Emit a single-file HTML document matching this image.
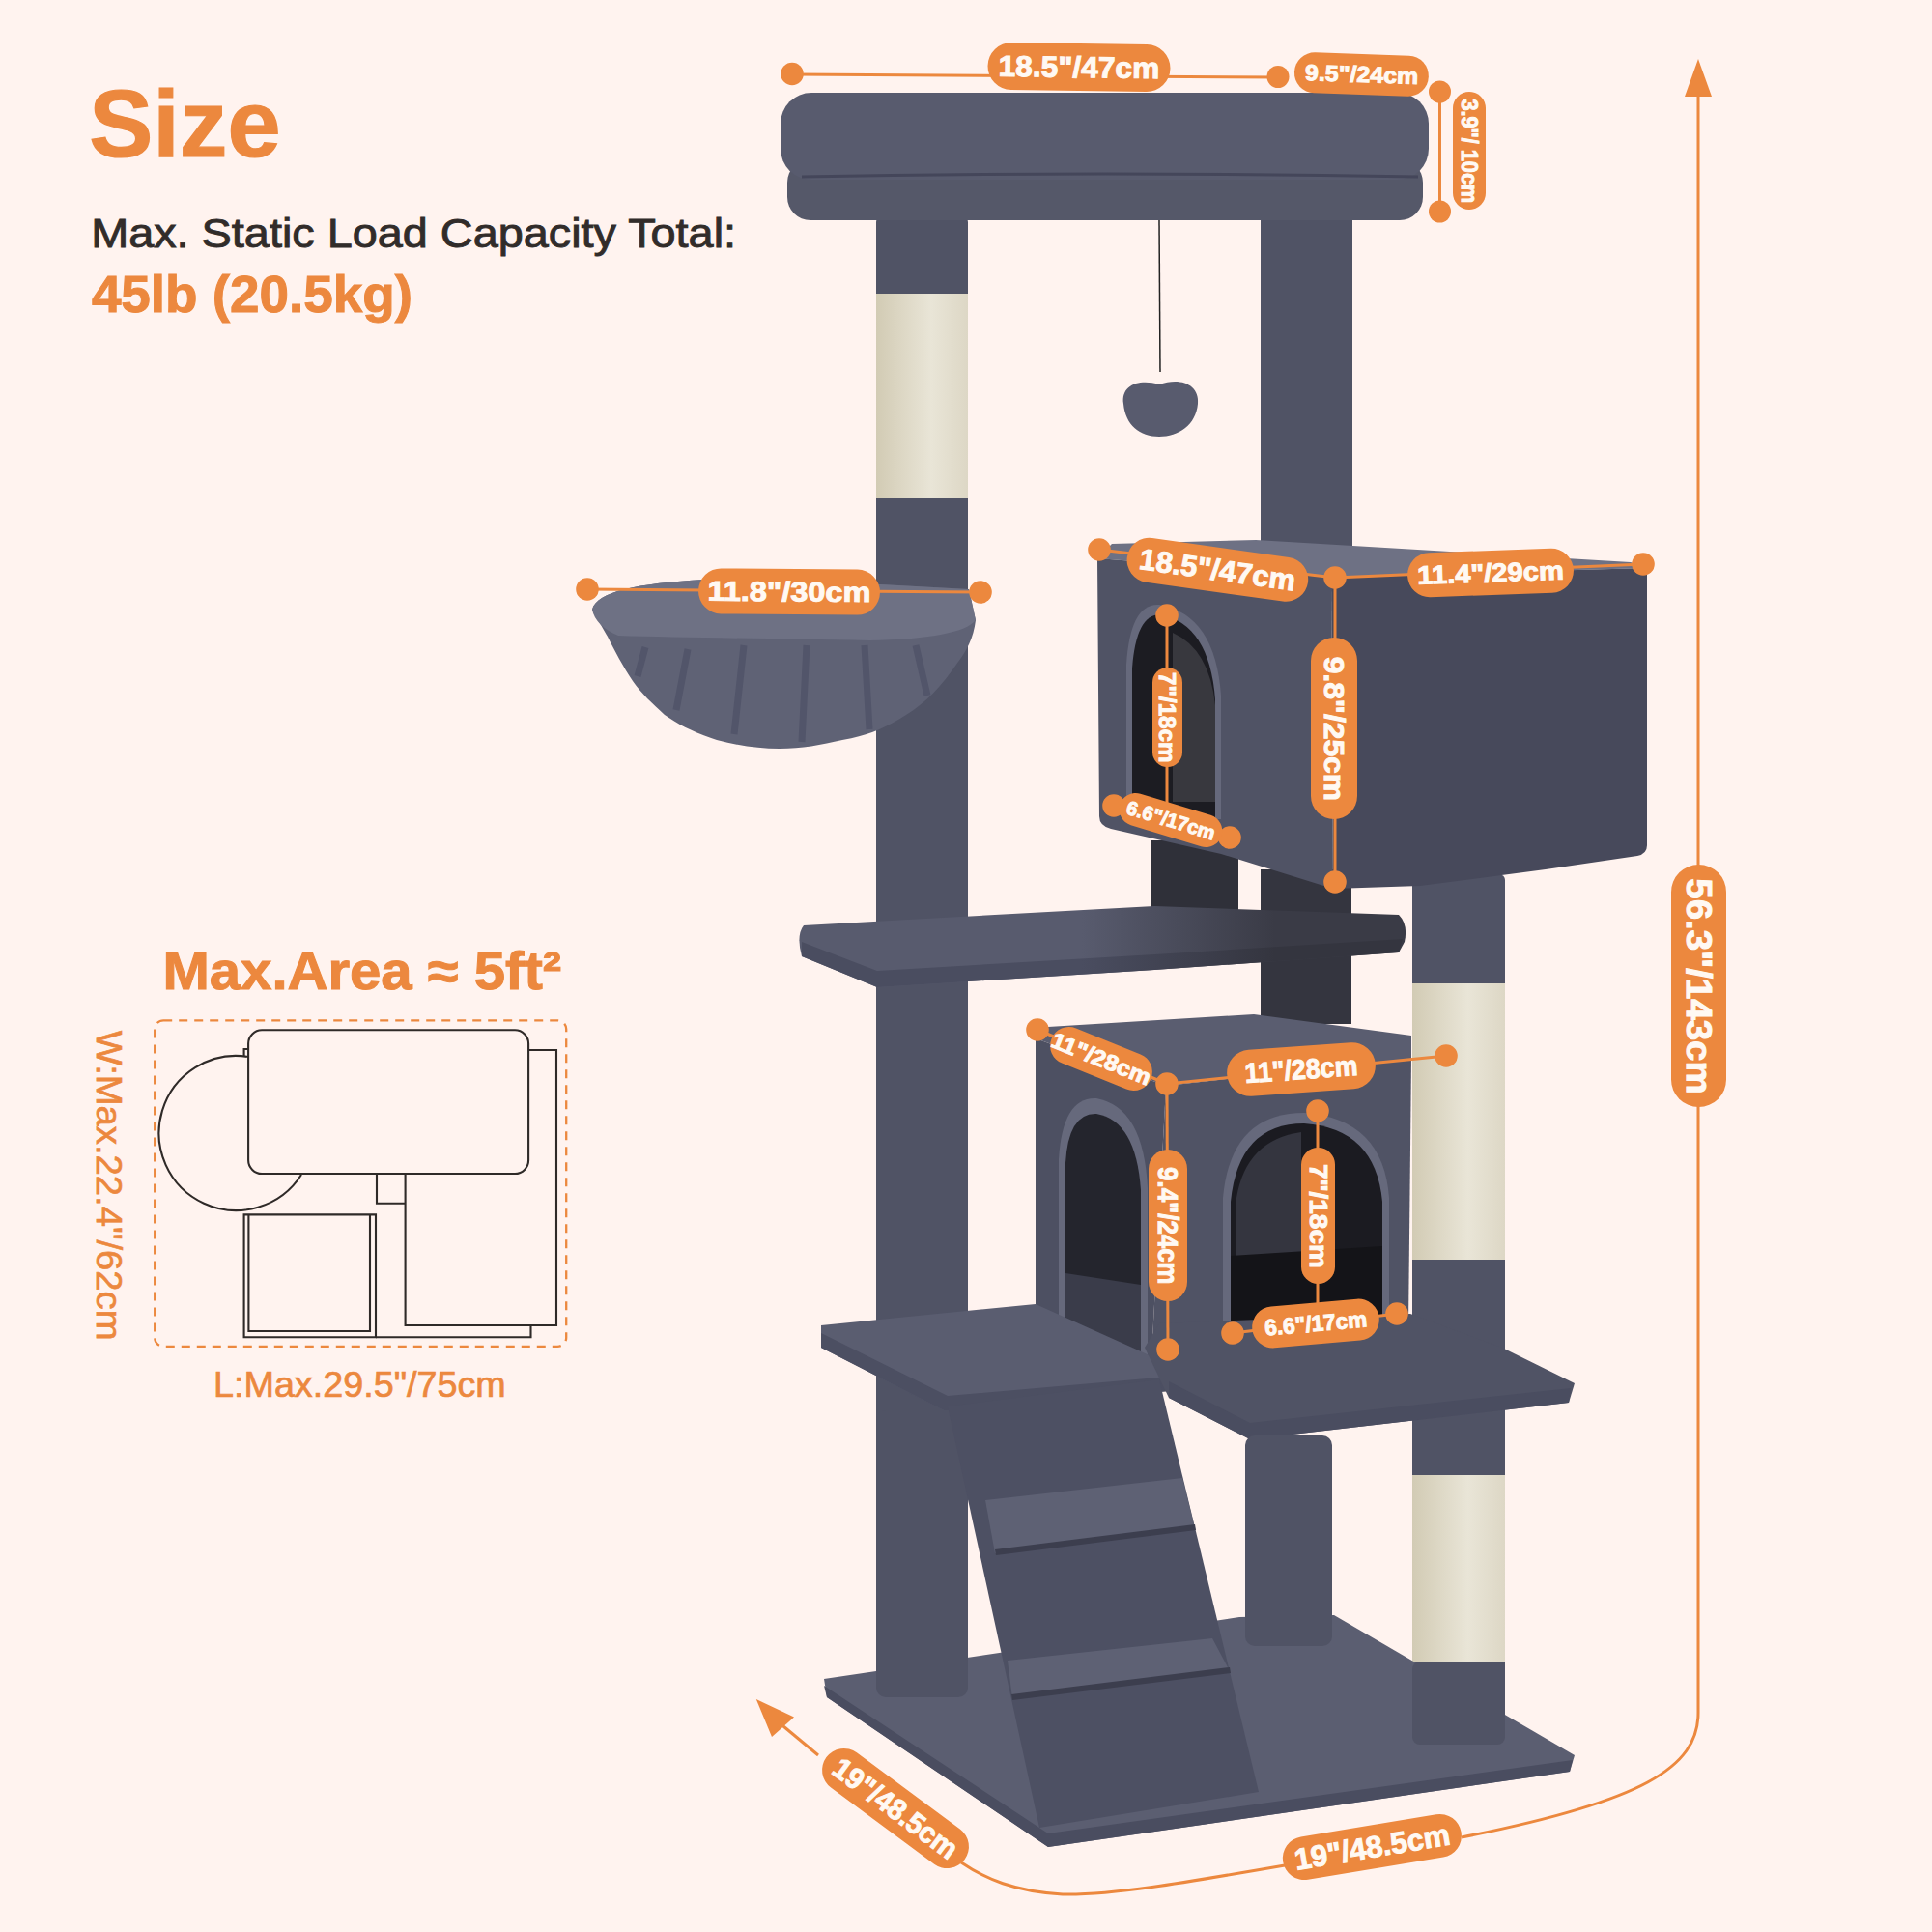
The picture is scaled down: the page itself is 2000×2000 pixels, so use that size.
<!DOCTYPE html>
<html><head><meta charset="utf-8">
<style>
html,body{margin:0;padding:0;background:#FFF3EF;}
body{width:2000px;height:2000px;overflow:hidden;position:relative;font-family:"Liberation Sans",sans-serif;}
svg{position:absolute;left:0;top:0;}
.t{font-family:"Liberation Sans",sans-serif;font-weight:bold;}
.r{font-family:"Liberation Sans",sans-serif;font-weight:normal;}
</style></head>
<body>
<svg width="2000" height="2000" viewBox="0 0 2000 2000">
<rect width="2000" height="2000" fill="#FFF3EF"/>
<defs>
  <linearGradient id="sis" x1="0" y1="0" x2="1" y2="0">
    <stop offset="0" stop-color="#D2CBB4"/><stop offset="0.6" stop-color="#E9E5D7"/><stop offset="1" stop-color="#DDD7C5"/>
  </linearGradient>
  <linearGradient id="mp" gradientUnits="userSpaceOnUse" x1="1120" y1="0" x2="1320" y2="0">
    <stop offset="0" stop-color="#585B6E"/><stop offset="1" stop-color="#3A3B46"/>
  </linearGradient>
  <linearGradient id="mpf" gradientUnits="userSpaceOnUse" x1="1120" y1="0" x2="1320" y2="0">
    <stop offset="0" stop-color="#4A4D60"/><stop offset="1" stop-color="#34353F"/>
  </linearGradient>
</defs>
<g id="tree">
  <!-- upper right post (behind condo) -->
  <rect x="1305" y="222" width="95" height="345" fill="#505365"/>
  <!-- left long post -->
  <rect x="907" y="222" width="95" height="1535" rx="8" fill="#505365"/>
  <rect x="907" y="304" width="95" height="212" fill="url(#sis)"/>
  <!-- top platform -->
  <rect x="815" y="165" width="658" height="63" rx="24" fill="#555869"/>
  <rect x="808" y="96" width="671" height="90" rx="32" fill="#585B6E"/>
  <path d="M830,183 Q1140,177 1468,183" fill="none" stroke="#44465A" stroke-width="3"/>
  <!-- ball -->
  <line x1="1200" y1="228" x2="1201" y2="385" stroke="#222" stroke-width="1.5"/>
  <path d="M1163,418 C1160,398 1180,392 1200,398 C1222,390 1242,398 1240,418 C1238,440 1220,452 1200,452 C1180,452 1165,440 1163,418 Z" fill="#585B6E"/>
  <!-- hammock -->
  <path d="M613,631 C618,612 660,604 729,600 L912,605 L1003,610 L1010,642 C1008,660 1000,675 992,685 C975,710 958,728 938,740 C915,755 895,762 872,766 C850,771 830,775 807,775 C785,775 765,772 742,766 C718,758 702,750 688,740 C675,728 664,718 655,705 C645,690 636,673 629,659 C625,652 618,640 613,631 Z" fill="#5F6275"/>
  <path d="M613,631 C618,612 660,604 729,600 L912,605 L1003,610 L1010,642 C1000,655 960,662 900,663 C800,661 700,660 640,658 C625,652 615,642 613,631 Z" fill="#6E7184"/>
  <path d="M660,700 L668,670 M700,735 L712,672 M760,760 L770,668 M830,768 L835,668 M900,755 L895,668 M960,720 L948,668" stroke="#52556A" stroke-width="7" fill="none"/>
  <!-- posts under upper condo -->
  <rect x="1191" y="870" width="91" height="95" fill="#2F3039"/>
  <rect x="1305" y="900" width="94" height="160" fill="#34353F"/>
  <!-- right sisal post -->
  <rect x="1462" y="905" width="96" height="900" rx="6" fill="#505365"/>
  <rect x="1462" y="1018" width="96" height="286" fill="url(#sis)"/>
  <rect x="1462" y="1527" width="96" height="193" fill="url(#sis)"/>
  <!-- middle platform -->
  <path d="M832,958 L1195,938 L1448,947 Q1458,957 1454,975 L1448,986 L1195,1004 L908,1022 L830,990 Q824,968 832,958 Z" fill="url(#mp)"/>
  <path d="M830,975 L908,1005 L1195,988 L1452,972 L1448,986 L1195,1004 L908,1022 L830,990 Z" fill="url(#mpf)"/>
  <!-- upper condo -->
  <path d="M1136,578 L1151,563 L1300,559 L1688,582 L1705,588 L1378,597 Z" fill="#6E7184"/>
  <path d="M1136,578 L1378,597 L1380,920 L1264,884 L1150,858 Q1138,855 1138,845 Z" fill="#505365"/>
  <path d="M1378,597 L1705,588 L1705,875 Q1705,884 1695,886 L1600,900 L1470,917 L1380,920 Z" fill="#47495B"/>
  <path d="M1166,848 L1166,688 Q1170,624 1200,626 Q1258,636 1264,720 L1264,848 Z" fill="#66697C"/>
  <path d="M1172,846 L1172,692 Q1176,636 1201,636 Q1252,646 1258,724 L1258,846 Z" fill="#1C1C22"/>
  <path d="M1214,655 Q1252,672 1258,730 L1258,830 L1214,830 Z" fill="#38383E"/>
  <!-- lower condo -->
  <path d="M1072,1075 L1085,1063 L1298,1050 L1461,1072 L1461,1096 L1207,1124 Z" fill="#5A5D70"/>
  <path d="M1072,1075 L1207,1124 L1192,1406 L1072,1355 Z" fill="#4D5062"/>
  <path d="M1207,1124 L1461,1096 L1458,1373 L1192,1406 Z" fill="#505365"/>
  <path d="M1096,1388 L1096,1200 Q1100,1135 1135,1137 Q1184,1146 1188,1230 L1188,1404 Z" fill="#66697C"/>
  <path d="M1103,1386 L1103,1204 Q1106,1152 1135,1153 Q1176,1160 1181,1232 L1181,1400 Z" fill="#24252D"/>
  <path d="M1103,1318 L1181,1330 L1181,1400 L1103,1386 Z" fill="#3A3C4A"/>
  <path d="M1266,1386 L1266,1240 Q1274,1152 1350,1152 Q1432,1158 1438,1240 L1438,1370 Z" fill="#66697C"/>
  <path d="M1274,1384 L1274,1244 Q1282,1163 1350,1163 Q1424,1168 1431,1244 L1431,1370 Z" fill="#1B1B21"/>
  <path d="M1280,1310 L1280,1240 Q1290,1180 1347,1172 L1347,1300 Z" fill="#34353F"/>
  <path d="M1274,1300 L1431,1290 L1431,1370 L1274,1384 Z" fill="#141418"/>
  <!-- lower-left platform -->
  <path d="M850,1372 L1072,1350 L1210,1412 L1210,1440 L981,1462 L850,1395 Z" fill="#5A5D70"/>
  <path d="M850,1380 L981,1445 L1210,1425 L1210,1440 L981,1462 L850,1395 Z" fill="#4C4F62"/>
  <!-- right lower platform -->
  <path d="M1185,1395 L1200,1370 L1460,1360 L1557,1396 L1630,1432 L1624,1452 L1294,1490 L1210,1447 Z" fill="#505365"/>
  <path d="M1210,1430 L1294,1473 L1626,1437 L1624,1452 L1294,1490 L1210,1447 Z" fill="#4A4D60"/>
  <!-- base -->
  <path d="M853,1738 L1283,1674 L1381,1672 L1630,1817 L1625,1834 L1085,1912 L856,1757 Z" fill="#5B5E71"/>
  <path d="M853,1745 L1085,1898 L1628,1822 L1625,1834 L1085,1912 L856,1757 Z" fill="#4A4D60"/>
  <!-- posts standing on base -->
  <rect x="907" y="1460" width="95" height="297" rx="10" fill="#505365"/>
  <rect x="1289" y="1486" width="90" height="218" rx="10" fill="#505365"/>
  <rect x="1462" y="1720" width="96" height="86" rx="8" fill="#505365"/>
  <!-- ramp -->
  <path d="M981,1456 L1200,1428 L1303,1855 L1076,1892 Z" fill="#4D5063"/>
  <path d="M1020,1553 L1224,1530 L1237,1582 L1030,1608 Z" fill="#5E6174"/>
  <path d="M1030,1604 L1237,1578 L1238,1584 L1031,1610 Z" fill="#3C3E4E"/>
  <path d="M1043,1719 L1255,1696 L1273,1730 L1048,1758 Z" fill="#5E6174"/>
  <path d="M1047,1754 L1273,1726 L1274,1732 L1048,1760 Z" fill="#3C3E4E"/>
</g>

<g id="ann">
<line x1="820" y1="77" x2="1323" y2="80" stroke="#EC883E" stroke-width="3"/>
<circle cx="820" cy="76.5" r="11.8" fill="#EC883E"/>
<g transform="translate(1117,69.5) rotate(0.8)"><rect x="-94.5" y="-24.5" width="189" height="49" rx="24.5" fill="#EC883E"/><text class="t" transform="translate(-83.40,10.50) scale(1.0430,1)" font-size="30.43" fill="#FFF9F3" stroke="#FFF9F3" stroke-width="1.0">18.5"/47cm</text></g>
<circle cx="1323" cy="79.5" r="11.5" fill="#EC883E"/>
<g transform="translate(1409.4,77) rotate(2)"><rect x="-69.5" y="-21.0" width="139" height="42" rx="21.0" fill="#EC883E"/><text class="t" transform="translate(-58.37,8.00) scale(1.0770,1)" font-size="23.19" fill="#FFF9F3" stroke="#FFF9F3" stroke-width="1.0">9.5"/24cm</text></g>
<line x1="1490.5" y1="95" x2="1490.5" y2="219" stroke="#EC883E" stroke-width="3"/>
<circle cx="1490.5" cy="95" r="11.5" fill="#EC883E"/>
<circle cx="1490.5" cy="219" r="11.5" fill="#EC883E"/>
<g transform="translate(1521,156) rotate(90)"><rect x="-61.0" y="-17.0" width="122" height="34" rx="17.0" fill="#EC883E"/><text class="t" transform="translate(-53.54,8.25) scale(0.9056,1)" font-size="23.91" fill="#FFF9F3" stroke="#FFF9F3" stroke-width="1.0">3.9"/ 10cm</text></g>
<path d="M1758,96 L1758,1773 C1758,1830 1700,1865 1513,1902" fill="none" stroke="#EC883E" stroke-width="3"/>
<path d="M1758,61 L1772,100 L1744,100 Z" fill="#EC883E"/>
<g transform="translate(1758.5,1020.5) rotate(90)"><rect x="-125.5" y="-28.5" width="251" height="57" rx="28.5" fill="#EC883E"/><text class="t" transform="translate(-111.15,12.50) scale(1.0606,1)" font-size="36.23" fill="#FFF9F3" stroke="#FFF9F3" stroke-width="1.0">56.3"/143cm</text></g>
<path d="M1330,1931 C1220,1950 1150,1962 1100,1961 C1050,1958 1020,1945 995,1928" fill="none" stroke="#EC883E" stroke-width="3"/>
<g transform="translate(1420.4,1912) rotate(-9.4)"><rect x="-93.5" y="-22.5" width="187" height="45" rx="22.5" fill="#EC883E"/><text class="t" transform="translate(-81.36,10.75) scale(0.9937,1)" font-size="31.16" fill="#FFF9F3" stroke="#FFF9F3" stroke-width="1.0">19"/48.5cm</text></g>
<line x1="847" y1="1817" x2="805" y2="1782" stroke="#EC883E" stroke-width="3"/>
<path d="M782.8,1759 L822,1777.6 L799,1798 Z" fill="#EC883E"/>
<g transform="translate(927,1872) rotate(36.5)"><rect x="-89.0" y="-22.5" width="178" height="45" rx="22.5" fill="#EC883E"/><text class="t" transform="translate(-76.24,10.50) scale(0.9534,1)" font-size="30.43" fill="#FFF9F3" stroke="#FFF9F3" stroke-width="1.0">19"/48.5cm</text></g>
<line x1="608" y1="610" x2="1015" y2="613" stroke="#EC883E" stroke-width="3"/>
<circle cx="608" cy="610" r="11.8" fill="#EC883E"/>
<circle cx="1015" cy="613" r="11.8" fill="#EC883E"/>
<g transform="translate(817,612.5) rotate(0.5)"><rect x="-94.0" y="-23.5" width="188" height="47" rx="23.5" fill="#EC883E"/><text class="t" transform="translate(-84.45,9.85) scale(1.1376,1)" font-size="28.55" fill="#FFF9F3" stroke="#FFF9F3" stroke-width="1.0">11.8"/30cm</text></g>
<line x1="1138" y1="569" x2="1382" y2="598" stroke="#EC883E" stroke-width="3"/>
<line x1="1382" y1="598" x2="1701" y2="584" stroke="#EC883E" stroke-width="3"/>
<line x1="1382" y1="598" x2="1382" y2="913" stroke="#EC883E" stroke-width="3"/>
<circle cx="1138" cy="569" r="11.8" fill="#EC883E"/>
<circle cx="1701" cy="584" r="11.8" fill="#EC883E"/>
<circle cx="1382" cy="598" r="11.8" fill="#EC883E"/>
<circle cx="1382" cy="913" r="11.8" fill="#EC883E"/>
<g transform="translate(1260.4,589.8) rotate(8)"><rect x="-94.5" y="-23.0" width="189" height="46" rx="23.0" fill="#EC883E"/><text class="t" transform="translate(-81.36,10.50) scale(1.0174,1)" font-size="30.43" fill="#FFF9F3" stroke="#FFF9F3" stroke-width="1.0">18.5"/47cm</text></g>
<g transform="translate(1543,593) rotate(-2)"><rect x="-86.0" y="-23.0" width="172" height="46" rx="23.0" fill="#EC883E"/><text class="t" transform="translate(-75.75,9.20) scale(1.0925,1)" font-size="26.67" fill="#FFF9F3" stroke="#FFF9F3" stroke-width="1.0">11.4"/29cm</text></g>
<g transform="translate(1381,754) rotate(90)"><rect x="-94.0" y="-24.0" width="188" height="48" rx="24.0" fill="#EC883E"/><text class="t" transform="translate(-74.36,10.50) scale(1.0453,1)" font-size="30.43" fill="#FFF9F3" stroke="#FFF9F3" stroke-width="1.0">9.8"/25cm</text></g>
<line x1="1208" y1="638" x2="1208" y2="831" stroke="#EC883E" stroke-width="3"/>
<circle cx="1208" cy="637" r="11.8" fill="#EC883E"/>
<g transform="translate(1208.5,742.5) rotate(90)"><rect x="-51.5" y="-15.5" width="103" height="31" rx="15.5" fill="#EC883E"/><text class="t" transform="translate(-46.47,8.50) scale(0.9810,1)" font-size="24.64" fill="#FFF9F3" stroke="#FFF9F3" stroke-width="1.0">7"/18cm</text></g>
<line x1="1153" y1="834" x2="1273" y2="867" stroke="#EC883E" stroke-width="3"/>
<circle cx="1153" cy="834" r="11.8" fill="#EC883E"/>
<circle cx="1273" cy="867" r="11.8" fill="#EC883E"/>
<g transform="translate(1212,849) rotate(17)"><rect x="-55.0" y="-17.0" width="110" height="34" rx="17.0" fill="#EC883E"/><text class="t" transform="translate(-47.21,7.00) scale(0.9953,1)" font-size="20.29" fill="#FFF9F3" stroke="#FFF9F3" stroke-width="1.0">6.6"/17cm</text></g>
<line x1="1074" y1="1066" x2="1208" y2="1122" stroke="#EC883E" stroke-width="3"/>
<line x1="1208" y1="1122" x2="1497" y2="1093" stroke="#EC883E" stroke-width="3"/>
<line x1="1208" y1="1122" x2="1209" y2="1397" stroke="#EC883E" stroke-width="3"/>
<circle cx="1074" cy="1066" r="11.8" fill="#EC883E"/>
<circle cx="1208" cy="1122" r="11.8" fill="#EC883E"/>
<circle cx="1497" cy="1093" r="11.8" fill="#EC883E"/>
<circle cx="1209" cy="1397" r="11.8" fill="#EC883E"/>
<g transform="translate(1140,1096) rotate(22)"><rect x="-55.5" y="-19.5" width="111" height="39" rx="19.5" fill="#EC883E"/><text class="t" transform="translate(-54.50,8.00) scale(1.0756,1)" font-size="23.19" fill="#FFF9F3" stroke="#FFF9F3" stroke-width="1.0">11"/28cm</text></g>
<g transform="translate(1347,1107) rotate(-4)"><rect x="-77.0" y="-24.0" width="154" height="48" rx="24.0" fill="#EC883E"/><text class="t" transform="translate(-58.61,10.00) scale(0.9254,1)" font-size="28.99" fill="#FFF9F3" stroke="#FFF9F3" stroke-width="1.0">11"/28cm</text></g>
<g transform="translate(1209,1268.5) rotate(90)"><rect x="-78.5" y="-20.0" width="157" height="40" rx="20.0" fill="#EC883E"/><text class="t" transform="translate(-60.40,10.00) scale(0.8915,1)" font-size="28.99" fill="#FFF9F3" stroke="#FFF9F3" stroke-width="1.0">9.4"/24cm</text></g>
<line x1="1364" y1="1150" x2="1364" y2="1353" stroke="#EC883E" stroke-width="3"/>
<circle cx="1364" cy="1150" r="11.8" fill="#EC883E"/>
<g transform="translate(1364.5,1258.5) rotate(90)"><rect x="-70.5" y="-17.5" width="141" height="35" rx="17.5" fill="#EC883E"/><text class="t" transform="translate(-53.62,9.00) scale(1.0691,1)" font-size="26.09" fill="#FFF9F3" stroke="#FFF9F3" stroke-width="1.0">7"/18cm</text></g>
<line x1="1276" y1="1380" x2="1446" y2="1360" stroke="#EC883E" stroke-width="3"/>
<circle cx="1276" cy="1380" r="11.8" fill="#EC883E"/>
<circle cx="1446" cy="1360" r="11.8" fill="#EC883E"/>
<g transform="translate(1362,1370) rotate(-5)"><rect x="-66.0" y="-21.5" width="132" height="43" rx="21.5" fill="#EC883E"/><text class="t" transform="translate(-52.79,8.00) scale(0.9739,1)" font-size="23.19" fill="#FFF9F3" stroke="#FFF9F3" stroke-width="1.0">6.6"/17cm</text></g>
</g>
<g id="area">
  <rect x="160.2" y="1056.3" width="426" height="337.5" rx="9" fill="none" stroke="#EC883E" stroke-width="2.3" stroke-dasharray="9,7"/>
  <g fill="none" stroke="#2F2A28" stroke-width="2.1">
    <path d="M257.1,1094 A80,80 0 1 0 312,1216"/>
    <path d="M252.6,1093.5 L252.6,1086 L257.1,1086"/>
    <rect x="257.1" y="1066.3" width="290" height="148.7" rx="14"/>
    <path d="M547,1087 L576,1087 L576,1372 L419.6,1372 L419.6,1215"/>
    <path d="M390,1215 L390,1245.7 L419.6,1245.7"/>
    <path d="M252.6,1257.4 L389,1257.4 L389,1384.2 L252.6,1384.2 Z"/>
    <path d="M257.4,1257.4 L257.4,1378 L383,1378 L383,1257.4"/>
    <path d="M389,1384.2 L549.5,1384.2 L549.5,1372"/>
  </g>
</g>

<text class="t" transform="translate(92.23,162.00) scale(1.0178,1)" font-size="97.39" fill="#EC883E" stroke="#EC883E" stroke-width="1.2">Size</text>
<text class="r" transform="translate(94.15,256.30) scale(1.0844,1)" font-size="43.19" fill="#312C2A" stroke="#312C2A" stroke-width="0.9">Max. Static Load Capacity Total:</text>
<text class="t" transform="translate(94.88,322.60) scale(1.0337,1)" font-size="53.04" fill="#EC883E" stroke="#EC883E" stroke-width="1.0">45lb (20.5kg)</text>
<text class="t" transform="translate(168.42,1024.00) scale(1.0632,1)" font-size="54.64" fill="#EC883E" stroke="#EC883E" stroke-width="1.0">Max.Area ≈ 5ft²</text>
<text class="r" transform="translate(220.98,1446.00) scale(1.0417,1)" font-size="36.23" fill="#EC883E" stroke="#EC883E" stroke-width="0.7">L:Max.29.5"/75cm</text>
<text class="r" transform="translate(99.50,1066.81) rotate(90) scale(1.0336,1)" font-size="36.96" fill="#EC883E" stroke="#EC883E" stroke-width="0.7">W:Max.22.4"/62cm</text>
</svg>
</body></html>
